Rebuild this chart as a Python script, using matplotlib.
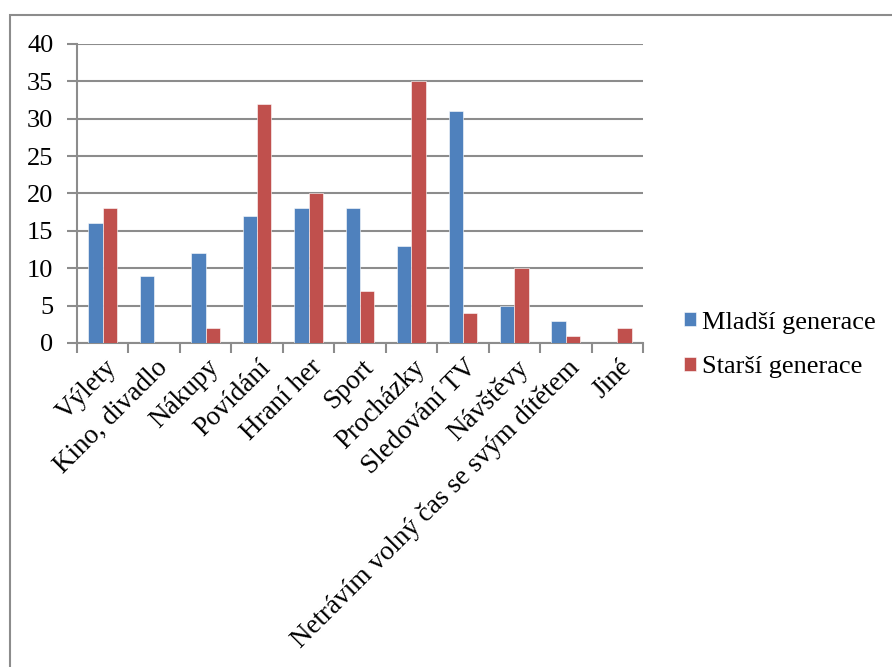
import matplotlib
matplotlib.use('Agg')
import matplotlib.pyplot as plt
from matplotlib.patches import Rectangle
import numpy as np

categories = ['Výlety', 'Kino, divadlo', 'Nákupy', 'Povídání', 'Hraní her', 'Sport',
              'Procházky', 'Sledování TV', 'Návštěvy',
              'Netrávím volný čas se svým dítětem', 'Jiné']
mladsi = [16, 9, 12, 17, 18, 18, 13, 31, 5, 3, 0]
starsi = [18, 0, 2, 32, 20, 7, 35, 4, 10, 1, 2]
series_names = ['Mladší generace', 'Starší generace']
colors = ['#4F81BD', '#C0504D']

plt.rcParams['font.family'] = ['Liberation Serif', 'DejaVu Serif']

W, H = 892, 667
fig = plt.figure(figsize=(W / 100, H / 100), dpi=100)
ax = fig.add_axes([77 / W, 1 - 343 / H, (643 - 77) / W, (343 - 44) / H])

# outer chart frame (extends past the image on right and bottom)
fig.add_artist(Rectangle((10 / W, -0.1), 1.1, 1 - 15 / H + 0.1, transform=fig.transFigure,
                         fill=False, edgecolor='#8c8c8c', linewidth=1.5))

x = np.arange(len(categories))
bw = 0.28
ax.bar(x - bw / 2, mladsi, bw, color=colors[0], edgecolor='white', linewidth=0.4,
       label=series_names[0], zorder=3)
ax.bar(x + bw / 2, starsi, bw, color=colors[1], edgecolor='white', linewidth=0.4,
       label=series_names[1], zorder=3)

ax.set_xlim(-0.5, len(categories) - 0.5)
ax.set_ylim(0, 40)
ax.set_yticks(range(0, 41, 5))
ax.yaxis.grid(True, color='#8c8c8c', linewidth=1.5, zorder=0)
for s in ['top', 'right']:
    ax.spines[s].set_visible(False)
for s in ['left', 'bottom']:
    ax.spines[s].set_color('#8c8c8c')
    ax.spines[s].set_linewidth(1.5)

ax.tick_params(axis='y', length=7, width=1.5, color='#8c8c8c', labelsize=19, pad=10)
ax.set_xticks(np.arange(len(categories) + 1) - 0.5, minor=False)
ax.set_xticklabels([])
ax.tick_params(axis='x', length=7, width=1.5, color='#8c8c8c')
for i, lab in enumerate(categories):
    ax.text(i + 0.02, -1.6, lab, rotation=45, ha='right', va='top',
            rotation_mode='anchor', fontsize=19.5)

leg = fig.legend(loc='center left', bbox_to_anchor=(684 / W, 1 - 345 / H), frameon=False,
                 fontsize=19, handlelength=0.45, handleheight=0.45, handletextpad=0.25,
                 labelspacing=0.85, borderpad=0, borderaxespad=0)

fig.savefig('out.png', dpi=100)
